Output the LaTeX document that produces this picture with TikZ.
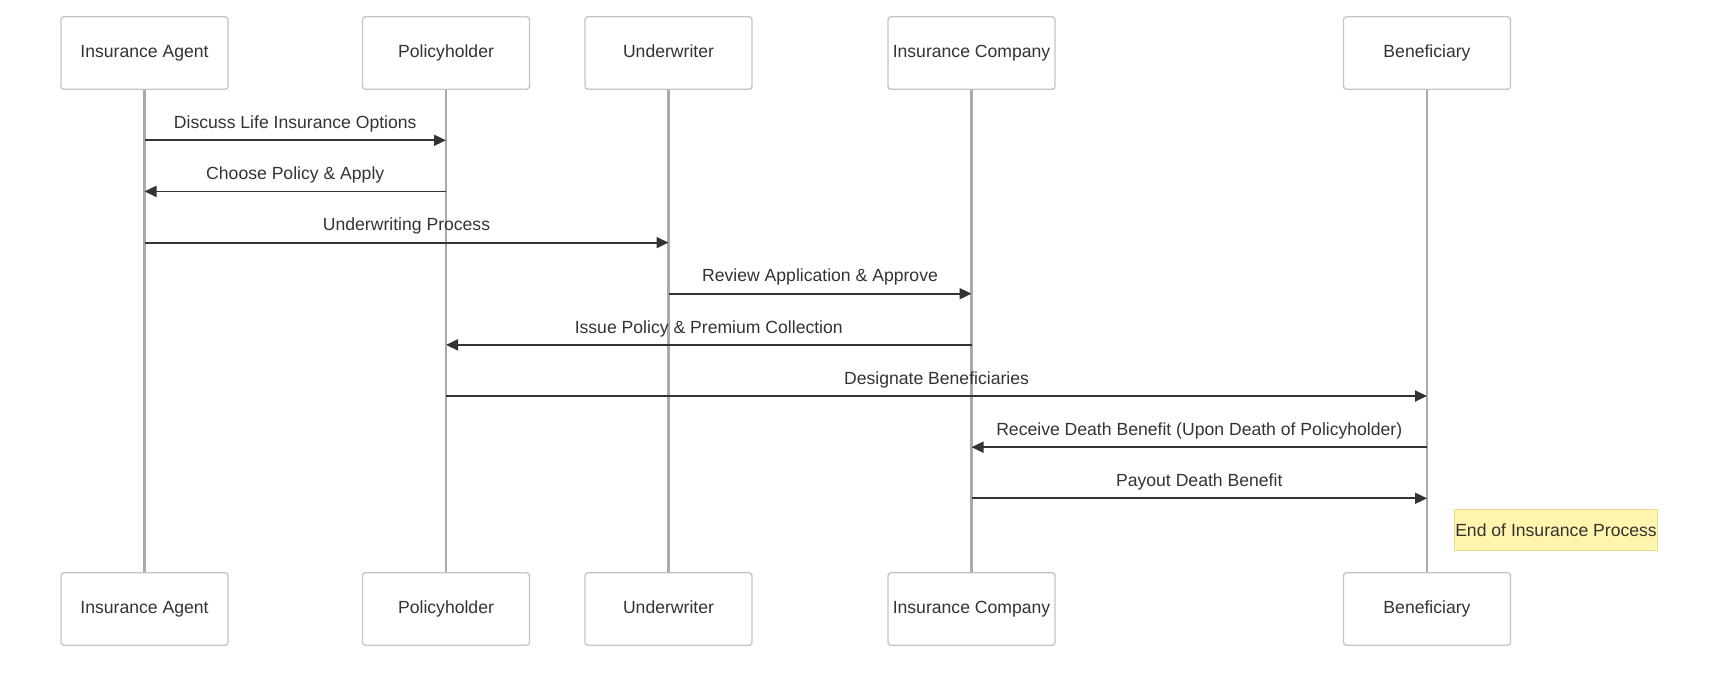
\documentclass[tikz,border=0pt]{standalone}
\usepackage{fontspec}
\setmainfont{Liberation Sans}
\usetikzlibrary{arrows.meta}
\definecolor{ink}{HTML}{333333}
\definecolor{boxline}{HTML}{C4C4C4}
\definecolor{lifeline}{HTML}{AAAAAA}
\definecolor{notefill}{HTML}{FFF5AD}
\definecolor{noteline}{HTML}{E6DA8C}
\begin{document}
\begin{tikzpicture}[x=1pt, y=-1pt,
        actor/.style={draw=boxline, line width=1.3pt, fill=white, rounded corners=3pt,
            minimum width=167pt, minimum height=72.5pt, text=ink, text height=13pt, text depth=4pt,
            font=\fontsize{17.6}{21}\selectfont},
        life/.style={draw=lifeline, line width=2.2pt},
        msg/.style={draw=ink, line width=1.8pt, -{Triangle[length=12pt, width=11pt]}},
        lbl/.style={above=4pt, midway, text=ink, font=\fontsize{17.6}{21}\selectfont},
        note/.style={draw=noteline, fill=notefill, line width=1pt, inner xsep=0.5pt,
            minimum height=41pt, text=ink, font=\fontsize{17.6}{21}\selectfont}]
    \useasboundingbox (0,0) rectangle (1720,682);
    % participants
    \node[actor] (ag) at (144.5,53) {Insurance Agent};
    \node[actor] (ph) at (446,53) {Policyholder};
    \node[actor] (uw) at (668.5,53) {Underwriter};
    \node[actor] (ic) at (971.5,53) {Insurance Company};
    \node[actor] (bf) at (1427,53) {Beneficiary};
    \node[actor] (ag2) at (144.5,609) {Insurance Agent};
    \node[actor] (ph2) at (446,609) {Policyholder};
    \node[actor] (uw2) at (668.5,609) {Underwriter};
    \node[actor] (ic2) at (971.5,609) {Insurance Company};
    \node[actor] (bf2) at (1427,609) {Beneficiary};
    \draw[life] (ag) -- (ag2);
    \draw[life] (ph) -- (ph2);
    \draw[life] (uw) -- (uw2);
    \draw[life] (ic) -- (ic2);
    \draw[life] (bf) -- (bf2);
    % message levels
    \coordinate (m1) at (0,140.3);
    \coordinate (m2) at (0,191.4);
    \coordinate (m3) at (0,242.6);
    \coordinate (m4) at (0,293.7);
    \coordinate (m5) at (0,344.9);
    \coordinate (m6) at (0,396.0);
    \coordinate (m7) at (0,447.2);
    \coordinate (m8) at (0,498.3);
    \draw[msg] (ag |- m1) -- node[lbl] {Discuss Life Insurance Options} (ph |- m1);
    \draw[msg] (ph |- m2) -- node[lbl] {Choose Policy \& Apply} (ag |- m2);
    \draw[msg] (ag |- m3) -- node[lbl] {Underwriting Process} (uw |- m3);
    \draw[msg] (uw |- m4) -- node[lbl] {Review Application \& Approve} (ic |- m4);
    \draw[msg] (ic |- m5) -- node[lbl] {Issue Policy \& Premium Collection} (ph |- m5);
    \draw[msg] (ph |- m6) -- node[lbl] {Designate Beneficiaries} (bf |- m6);
    \draw[msg] (bf |- m7) -- node[lbl] {Receive Death Benefit (Upon Death of Policyholder)} (ic |- m7);
    \draw[msg] (ic |- m8) -- node[lbl] {Payout Death Benefit} (bf |- m8);
    \node[note] (end) at (1556,530) {End of Insurance Process};
\end{tikzpicture}
\end{document}
